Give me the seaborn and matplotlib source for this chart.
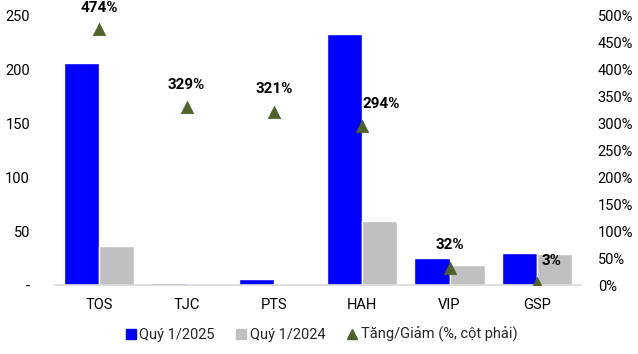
import numpy as np
import pandas as pd
import matplotlib
matplotlib.use("Agg")
import matplotlib.pyplot as plt
from matplotlib.ticker import FuncFormatter
from matplotlib.lines import Line2D
import seaborn as sns

categories = ["TOS", "TJC", "PTS", "HAH", "VIP", "GSP"]
q1_2025 = [205.5, 1.5, 5.5, 232.5, 25.0, 29.6]
q1_2024 = [36.0, 0.6, 0.8, 59.0, 18.5, 28.7]
change_pct = [474, 329, 321, 294, 32, 3]
change_labels = ["474%", "329%", "321%", "294%", "32%", "3%"]
series_names = ["Quý 1/2025", "Quý 1/2024", "Tăng/Giảm (%, cột phải)"]
left_ticks = [0, 50, 100, 150, 200, 250]
right_ticks = [0, 50, 100, 150, 200, 250, 300, 350, 400, 450, 500]

sns.set_theme(style="white")
plt.rcParams["font.family"] = ["Roboto", "DejaVu Sans"]

blue = "#0000FF"
gray = "#C0C0C0"
green = "#4F6228"

df = pd.DataFrame({
    "cat": categories * 2,
    "val": q1_2025 + q1_2024,
    "series": [series_names[0]] * 6 + [series_names[1]] * 6,
})

fig = plt.figure(figsize=(6.38, 3.54), dpi=100)
ax = fig.add_axes([0.0862, 0.1949, 0.8245, 0.7627])
sns.barplot(data=df, x="cat", y="val", hue="series", palette=[blue, gray],
            width=0.8, gap=0, ax=ax, legend=False, saturation=1)
ax.set_xlim(-0.5, 5.5)
ax.set_ylim(0, 250)
ax.set_yticks(left_ticks)
ax.yaxis.set_major_formatter(FuncFormatter(lambda v, p: "-" if v == 0 else f"{v:.0f}"))
ax.set_xlabel("")
ax.set_ylabel("")
for s in ["top", "right", "left"]:
    ax.spines[s].set_visible(False)
ax.spines["bottom"].set_color("#D9D9D9")
ax.spines["bottom"].set_linewidth(1.2)
ax.tick_params(axis="both", length=0, labelsize=10.5, colors="#000000")
ax.tick_params(axis="y", pad=18)
ax.tick_params(axis="x", pad=9)

ax2 = ax.twinx()
sns.scatterplot(x=np.arange(len(categories)), y=change_pct, marker="^", s=80,
                color=green, edgecolor=green, linewidth=0.5, ax=ax2, zorder=5, legend=False)
ax2.set_ylim(0, 500)
ax2.set_yticks(right_ticks)
ax2.yaxis.set_major_formatter(FuncFormatter(lambda v, p: f"{v:.0f}%"))
for s in ["top", "right", "left", "bottom"]:
    ax2.spines[s].set_visible(False)
ax2.tick_params(axis="y", length=0, labelsize=10.5, pad=12, colors="#000000")
ax2.set_xlim(-0.5, 5.5)

offsets = [(0, 10), (0, 11), (0, 11), (14, 11), (0, 11), (10, 11)]
for i, (v, lab) in enumerate(zip(change_pct, change_labels)):
    ax2.annotate(lab, (i, v), xytext=offsets[i], textcoords="offset points",
                 ha="center", va="bottom", fontsize=11, fontweight="bold", color="#000000")

handles = [
    Line2D([0], [0], marker="s", linestyle="none", markersize=7, color=blue),
    Line2D([0], [0], marker="s", linestyle="none", markersize=7, color=gray),
    Line2D([0], [0], marker="^", linestyle="none", markersize=7, color=green),
]
fig.legend(handles, series_names, loc="center", bbox_to_anchor=(0.502, 0.055), ncol=3,
           frameon=False, fontsize=10.5, handletextpad=0.1, columnspacing=1.3,
           handlelength=1.0)

fig.savefig("out.png", dpi=100)
